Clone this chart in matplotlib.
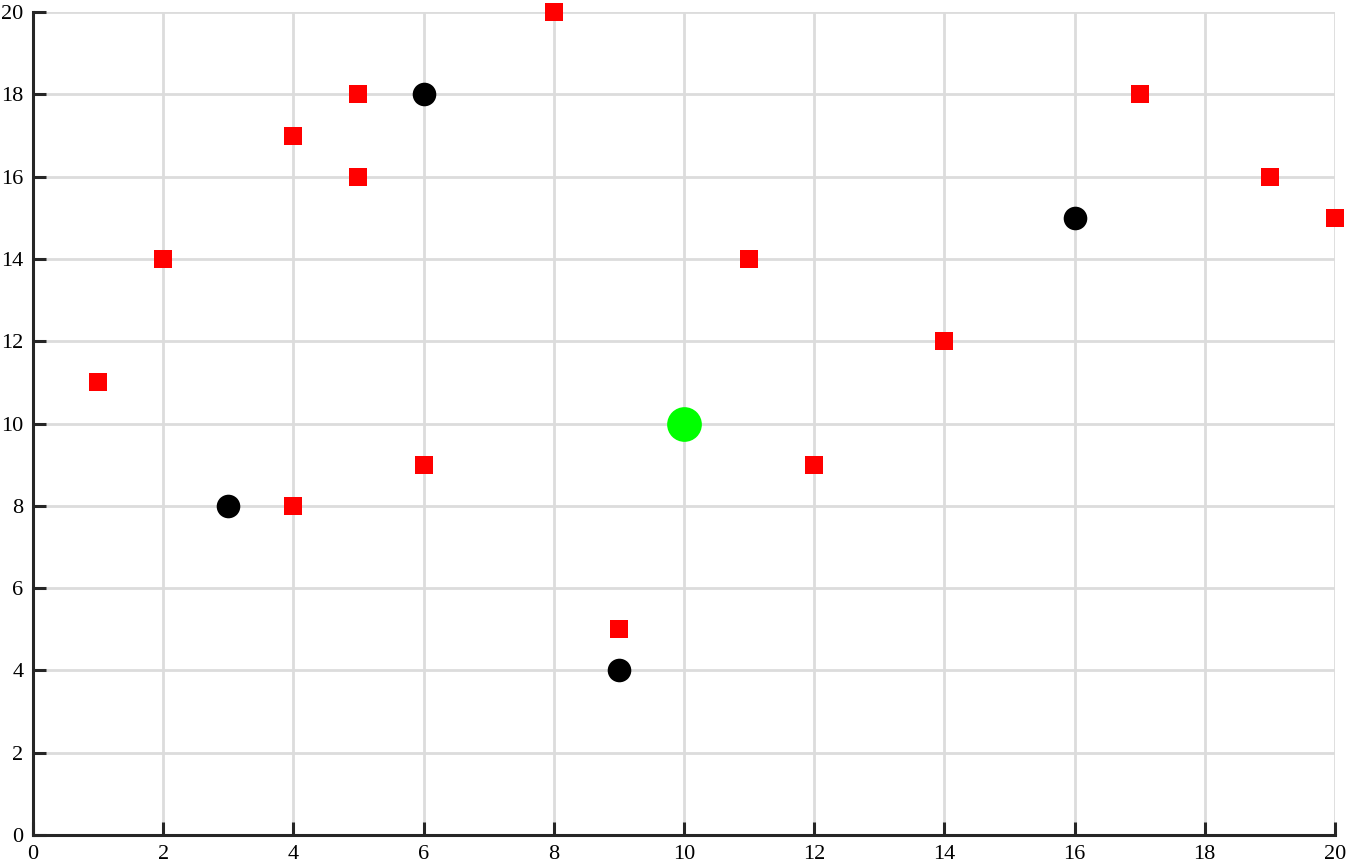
import matplotlib
matplotlib.use("Agg")
import matplotlib.pyplot as plt

red_x = [1, 2, 4, 4, 5, 5, 6, 8, 9, 11, 12, 14, 17, 19, 20]
red_y = [11, 14, 17, 8, 18, 16, 9, 20, 5, 14, 9, 12, 18, 16, 15]
black_x = [3, 6, 9, 16]
black_y = [8, 18, 4, 15]
green_x = [10]
green_y = [10]
ticks = list(range(0, 21, 2))

plt.rcParams['font.family'] = ['Liberation Serif', 'DejaVu Serif']

fig = plt.figure(figsize=(13.47, 8.65), dpi=100)
ax = fig.add_axes([0.0245, 0.0347, 0.9665, 0.9513])

ax.plot(red_x, red_y, 's', color='#ff0000', markersize=13.5, markeredgewidth=0, clip_on=False, zorder=3)
ax.plot(black_x, black_y, 'o', color='black', markersize=17, markeredgewidth=0, clip_on=False, zorder=3)
ax.plot(green_x, green_y, 'o', color='#00ff00', markersize=25, markeredgewidth=0, clip_on=False, zorder=3)

ax.set_xlim(0, 20)
ax.set_ylim(0, 20)
ax.set_xticks(ticks)
ax.set_yticks(ticks)
ax.grid(True, color='#dcdcdc', linewidth=2.0)
ax.set_axisbelow(True)
for s in ['top', 'right']:
    ax.spines[s].set_visible(False)
for s in ['left', 'bottom']:
    ax.spines[s].set_linewidth(2.2)
    ax.spines[s].set_color('#262626')
ax.tick_params(direction='in', length=9.5, width=2.2, color='#262626', labelsize=16)
ax.tick_params(axis='x', pad=7)
ax.tick_params(axis='y', pad=7)

fig.savefig('out.png', dpi=100)
